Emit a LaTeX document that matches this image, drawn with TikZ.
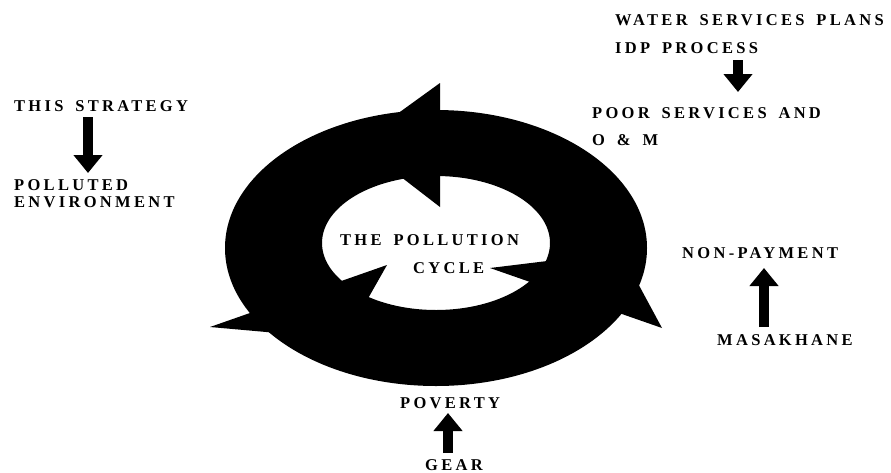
\documentclass[tikz,border=0pt]{standalone}
\usepackage{fontspec}
\setmainfont{Liberation Serif}
\newfontfamily\lbl[LetterSpace=20, WordSpace=1.6]{Liberation Serif}
\usetikzlibrary{arrows.meta}
\begin{document}
\begin{tikzpicture}[x=1pt,y=-1pt,
  lab/.style={anchor=base west, inner sep=0pt, font=\lbl\bfseries\fontsize{16.5}{19}\selectfont},
  blk/.style={line width=10pt, -{Triangle[width=28pt,length=18pt]}},
  ringfill/.style={fill=black}]
\useasboundingbox (0,0) rectangle (891,472);
% cycle ring
\fill[ringfill, even odd rule] (436,248) ellipse[x radius=211pt, y radius=138pt]
                               (436,243) ellipse[x radius=114pt, y radius=67pt];
% arrowheads of the cycle
\fill[ringfill] (440,83) -- (440,207) -- (357,143) -- cycle;
\fill[ringfill] (490,268) -- (662,328) -- (621,252) -- cycle;
\fill[ringfill] (210,327) -- (387,265) -- (345,339) -- cycle;
% labels
\node[lab] (strategy) at (14,111) {THIS STRATEGY};
\node[lab] (pol1) at (14,190) {POLLUTED};
\node[lab] (pol2) at (14,207) {ENVIRONMENT};
\node[lab] (water) at (615,25) {WATER SERVICES PLANS};
\node[lab] (idp) at (615,53) {IDP PROCESS};
\node[lab] (poor) at (592,118) {POOR SERVICES AND};
\node[lab] (om) at (592,145) {O \& M};
\node[lab] (nonpay) at (682,258) {NON-PAYMENT};
\node[lab] (masa) at (717,345) {MASAKHANE};
\node[lab] (poverty) at (400,408) {POVERTY};
\node[lab] (gear) at (425,470) {GEAR};
\node[lab] (thepol) at (340,245) {THE POLLUTION};
\node[lab] (cycle) at (413,273) {CYCLE};
% block arrows
\coordinate (a1s) at (88,117);  \coordinate (a1e) at (88,173);
\coordinate (a2s) at (738,60);  \coordinate (a2e) at (738,92);
\coordinate (a3s) at (764,327); \coordinate (a3e) at (764,268);
\coordinate (a4s) at (448,453); \coordinate (a4e) at (448,413);
\draw[blk] (a1s) -- (a1e);
\draw[blk] (a2s) -- (a2e);
\draw[blk] (a3s) -- (a3e);
\draw[blk] (a4s) -- (a4e);
\end{tikzpicture}
\end{document}
